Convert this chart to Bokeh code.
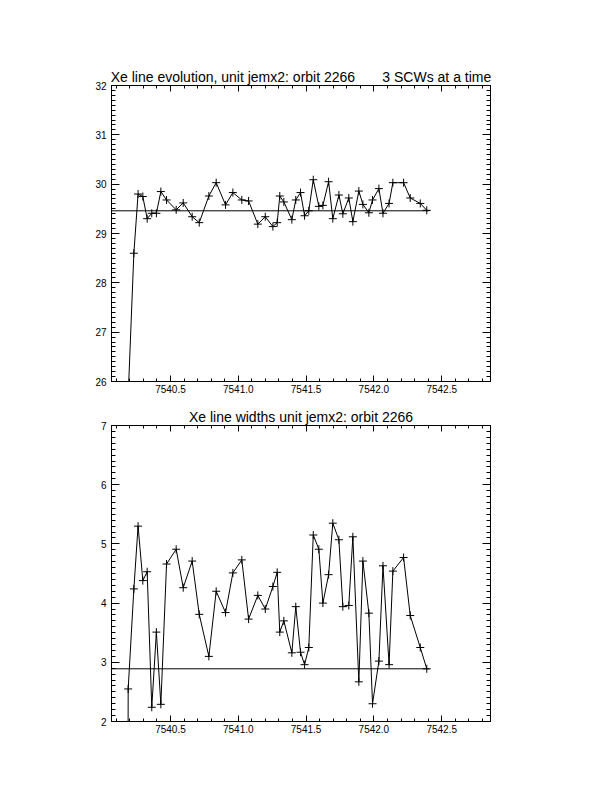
from bokeh.plotting import figure
from bokeh.layouts import column
from bokeh.models import (LinearAxis, SingleIntervalTicker, PrintfTickFormatter,
                          CustomJSTickFormatter, Range1d)
from bokeh.embed import file_html
from bokeh.resources import INLINE

# ---- data ----
times = [7540.186, 7540.188, 7540.230, 7540.261, 7540.296, 7540.328, 7540.362, 7540.396,
         7540.429, 7540.471, 7540.542, 7540.594, 7540.660, 7540.712, 7540.783, 7540.837,
         7540.906, 7540.960, 7541.026, 7541.076, 7541.144, 7541.199, 7541.255, 7541.287,
         7541.306, 7541.336, 7541.395, 7541.424, 7541.459, 7541.489, 7541.520, 7541.553,
         7541.594, 7541.624, 7541.666, 7541.697, 7541.742, 7541.771, 7541.815, 7541.845,
         7541.889, 7541.919, 7541.963, 7541.990, 7542.037, 7542.067, 7542.112, 7542.140,
         7542.219, 7542.268, 7542.342, 7542.390]
line_energy = [0.0, 25.7, 28.60, 29.80, 29.75, 29.30, 29.41, 29.41, 29.85, 29.68, 29.48,
               29.62, 29.34, 29.22, 29.76, 30.03, 29.58, 29.83, 29.68, 29.66, 29.19, 29.34,
               29.14, 29.22, 29.76, 29.64, 29.28, 29.68, 29.83, 29.36, 29.46, 30.09, 29.55,
               29.57, 30.05, 29.30, 29.78, 29.40, 29.72, 29.24, 29.86, 29.59, 29.42, 29.68,
               29.91, 29.41, 29.61, 30.03, 30.03, 29.72, 29.61, 29.47]
line_widths = [0.0, 2.55, 4.24, 5.30, 4.38, 4.53, 2.24, 3.51, 2.29, 4.66, 4.91, 4.26, 4.71,
               3.81, 3.10, 4.20, 3.84, 4.51, 4.73, 3.73, 4.13, 3.90, 4.28, 4.52, 3.51, 3.70,
               3.16, 3.94, 3.17, 2.96, 3.25, 5.15, 4.91, 4.00, 4.48, 5.35, 5.07, 3.94, 3.96,
               5.12, 2.67, 4.71, 3.83, 2.30, 3.02, 4.63, 2.96, 4.54, 4.77, 3.79, 3.25, 2.89]
energy_mean = 29.46
widths_mean = 2.89
x_start, x_end = 7540.065, 7542.86
mean_line_x = [x_start, 7542.41]

title_top = ("Xe line evolution, unit jemx2: orbit 2266"
             + "\u00a0" * 7 + "3 SCWs at a time")
title_bottom = "Xe line widths unit jemx2: orbit 2266"

FONT = "Liberation Sans"


def style_axis(ax, dim, labels):
    if dim == "x":
        ax.ticker = SingleIntervalTicker(interval=0.5, num_minor_ticks=5)
        ax.major_tick_in, ax.minor_tick_in = 6, 3
    else:
        ax.ticker = SingleIntervalTicker(interval=1, num_minor_ticks=10)
        ax.major_tick_in, ax.minor_tick_in = 8, 4
    ax.major_tick_out = 0
    ax.minor_tick_out = 0
    ax.axis_line_color = "black"
    ax.major_tick_line_color = "black"
    ax.minor_tick_line_color = "black"
    ax.axis_line_width = 1
    if labels:
        ax.formatter = PrintfTickFormatter(format="%.1f" if dim == "x" else "%d")
        ax.major_label_text_font = FONT
        ax.major_label_text_font_size = "10px"
        ax.major_label_text_color = "black"
        ax.major_label_standoff = 3 if dim == "x" else 5
    else:
        ax.formatter = CustomJSTickFormatter(code="return ''")
        ax.major_label_text_font_size = "1px"
        ax.major_label_standoff = 0


def make_fig(title, ylo, yhi, yvals, mean, btop, bbot):
    p = figure(frame_width=379, frame_height=296,
               x_range=Range1d(x_start, x_end), y_range=Range1d(ylo, yhi),
               output_backend="svg", toolbar_location=None,
               x_axis_location=None, y_axis_location=None,
               min_border_left=111, min_border_right=20,
               min_border_top=btop, min_border_bottom=bbot,
               background_fill_color="white", border_fill_color="white")
    p.xgrid.grid_line_color = None
    p.ygrid.grid_line_color = None
    p.outline_line_color = "black"
    p.title.text = title
    p.title.align = "center"
    p.title.text_font = FONT
    p.title.text_font_size = "14px"
    p.title.text_font_style = "normal"
    p.title.text_color = "black"
    p.title.standoff = 2

    for loc, dim, lab in (("below", "x", True), ("above", "x", False),
                          ("left", "y", True), ("right", "y", False)):
        ax = LinearAxis()
        style_axis(ax, dim, lab)
        p.add_layout(ax, loc)

    p.line(times, yvals, line_color="black", line_width=1)
    p.scatter(times, yvals, marker="cross", size=8, line_color="black", line_width=1)
    p.line(mean_line_x, [mean, mean], line_color="black", line_width=1)
    return p


p1 = make_fig(title_top, 26, 32, line_energy, energy_mean, 85, 22)
p2 = make_fig(title_bottom, 2, 7, line_widths, widths_mean, 22, 30)

layout = column(p1, p2, spacing=0)
open("out.html", "w").write(file_html(layout, INLINE))
